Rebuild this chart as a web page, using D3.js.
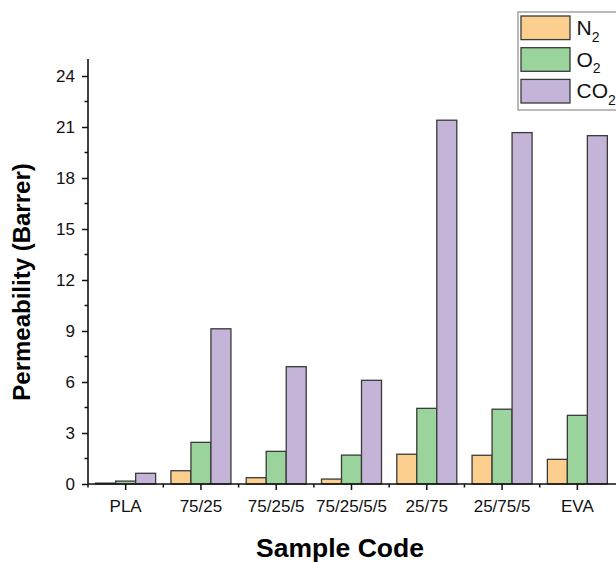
<!DOCTYPE html>
<html>
<head>
<meta charset="utf-8">
<script src="https://cdn.jsdelivr.net/npm/d3@7"></script>
<style>
  body { margin: 0; background: #fff; }
  text { font-family: Arial, 'Liberation Sans', sans-serif; }
</style>
</head>
<body>
<script>
const categories = ['PLA', '75/25', '75/25/5', '75/25/5/5', '25/75', '25/75/5', 'EVA']
const gases = ['N2', 'O2', 'CO2']
const n2 = [0.05, 0.78, 0.37, 0.29, 1.75, 1.69, 1.45]
const o2 = [0.17, 2.45, 1.92, 1.70, 4.45, 4.40, 4.04]
const co2 = [0.63, 9.13, 6.90, 6.10, 21.40, 20.67, 20.49]
const yTicks = [0, 3, 6, 9, 12, 15, 18, 21, 24]

const seriesVals = { N2: n2, O2: o2, CO2: co2 }
const colours = { N2: '#fdcf8e', O2: '#9ad39b', CO2: '#c3b4d8' }

const width = 616
const height = 562
const plotLeft = 88
const plotRight = 615
const plotTop = 59
const plotBottom = 484

const svg = d3.select(document.body).append('svg')
  .attr('width', width)
  .attr('height', height)

const x0 = d3.scaleBand().domain(categories).range([plotLeft, plotRight]).paddingInner(0).paddingOuter(0)
const groupW = 60
const x1 = d3.scaleBand().domain(gases).range([0, groupW])
const y = d3.scaleLinear().domain([0, 25]).range([plotBottom, plotTop])

// bars
const rows = categories.map((c, i) => ({ cat: c, vals: gases.map(g => ({ g, v: seriesVals[g][i] })) }))
const groups = svg.append('g').selectAll('g').data(rows).join('g')
  .attr('transform', d => `translate(${x0(d.cat) + (x0.bandwidth() - groupW) / 2},0)`)
groups.selectAll('rect').data(d => d.vals).join('rect')
  .attr('x', d => x1(d.g))
  .attr('y', d => y(d.v))
  .attr('width', x1.bandwidth())
  .attr('height', d => y(0) - y(d.v))
  .attr('fill', d => colours[d.g])
  .attr('stroke', '#3a3a3a')
  .attr('stroke-width', 1.3)

// y axis
const yAxis = d3.axisLeft(y).tickValues(yTicks).tickSize(6).tickPadding(7)
const gy = svg.append('g').attr('transform', `translate(${plotLeft},0)`).call(yAxis)
gy.select('.domain').remove()
gy.selectAll('text').attr('font-size', 17).attr('fill', '#111')
gy.selectAll('line').attr('stroke', '#111').attr('stroke-width', 1.5)
const minorY = d3.range(1.5, 25, 3)
gy.selectAll('.minor').data(minorY).join('line')
  .attr('class', 'minor')
  .attr('x1', -3.5).attr('x2', 0)
  .attr('y1', d => y(d)).attr('y2', d => y(d))
  .attr('stroke', '#111').attr('stroke-width', 1.5)
svg.append('line')
  .attr('x1', plotLeft).attr('x2', plotLeft).attr('y1', plotTop).attr('y2', plotBottom)
  .attr('stroke', '#111').attr('stroke-width', 1.6)

// x axis
const xAxis = d3.axisBottom(x0).tickSize(6).tickPadding(9.5)
const gx = svg.append('g').attr('transform', `translate(0,${plotBottom})`).call(xAxis)
gx.select('.domain').remove()
gx.selectAll('text').attr('font-size', 17).attr('fill', '#111')
gx.selectAll('line').attr('stroke', '#111').attr('stroke-width', 1.5)
gx.selectAll('.minor').data(categories).join('line')
  .attr('class', 'minor')
  .attr('x1', d => x0(d)).attr('x2', d => x0(d))
  .attr('y1', 0).attr('y2', 3.5)
  .attr('stroke', '#111').attr('stroke-width', 1.5)
svg.append('line')
  .attr('x1', plotLeft).attr('x2', plotRight + 5).attr('y1', plotBottom).attr('y2', plotBottom)
  .attr('stroke', '#111').attr('stroke-width', 1.6)

// axis titles
svg.append('text')
  .attr('x', 340).attr('y', 557)
  .attr('text-anchor', 'middle')
  .attr('font-size', 26.5).attr('font-weight', 'bold')
  .text('Sample Code')
svg.append('text')
  .attr('transform', 'translate(30,282) rotate(-90)')
  .attr('text-anchor', 'middle')
  .attr('font-size', 24).attr('font-weight', 'bold')
  .text('Permeability (Barrer)')

// legend
const leg = svg.append('g')
leg.append('rect')
  .attr('x', 518).attr('y', 12).attr('width', 110).attr('height', 98)
  .attr('fill', '#fff').attr('stroke', '#777').attr('stroke-width', 1)
const legItems = leg.selectAll('g.item').data(gases).join('g')
  .attr('class', 'item')
  .attr('transform', (d, i) => `translate(521,${16 + i * 31.7})`)
legItems.append('rect')
  .attr('width', 49).attr('height', 23.6)
  .attr('fill', d => colours[d])
  .attr('stroke', '#3a3a3a').attr('stroke-width', 1.3)
const lt = legItems.append('text')
  .attr('x', 55.5).attr('y', 19)
  .attr('font-size', 21).attr('fill', '#111')
lt.append('tspan').text(d => d.slice(0, -1))
lt.append('tspan').attr('font-size', 14).attr('dy', 6.5).text(d => d.slice(-1))
</script>
</body>
</html>
